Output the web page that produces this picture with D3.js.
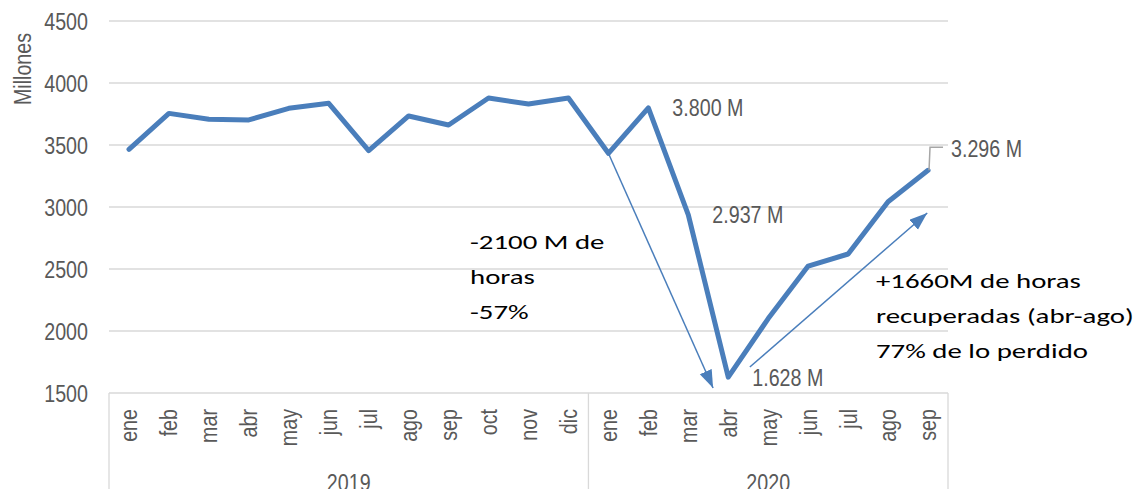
<!DOCTYPE html>
<html>
<head>
<meta charset="utf-8">
<script src="https://cdn.jsdelivr.net/npm/d3@7"></script>
<style>
  html, body { margin: 0; padding: 0; background: #ffffff; }
  svg { display: block; }
  .axis-text { font-family: "Liberation Sans", Arial, sans-serif; fill: #595959; }
  .note { font-family: Carlito, Calibri, Lato, "Open Sans", sans-serif; fill: #000000; }
</style>
</head>
<body>
<svg id="chart" width="1145" height="489"></svg>
<script>
// ---- data ----
const years = ["2019", "2020"];
const months2019 = ["ene","feb","mar","abr","may","jun","jul","ago","sep","oct","nov","dic"];
const months2020 = ["ene","feb","mar","abr","may","jun","jul","ago","sep"];
const values2019 = [3465, 3755, 3707, 3702, 3796, 3836, 3454, 3734, 3661, 3879, 3830, 3879];
const values2020 = [3433, 3800, 2937, 1628, 2100, 2524, 2621, 3043, 3296];
const yTicks = [1500, 2000, 2500, 3000, 3500, 4000, 4500];
const labeledIdx2020 = [1, 2, 3, 8];
const yAxisTitle = "Millones";
const noteLoss = ["-2100 M de", "horas", "-57%"];
const noteGain = ["+1660M de horas", "recuperadas (abr-ago)", "77% de lo perdido"];
// arrows: [fromIndex, fromValue, toIndex, toValue] (index on the 21-month axis)
const arrowLoss = [12, 3433, 14.62, 1540];
const arrowGain = [15.54, 1710, 19.98, 2952];

// ---- build ----
const months = [...months2019.map(m => ({year: "2019", m})), ...months2020.map(m => ({year: "2020", m}))];
const values = [...values2019, ...values2020];
const series = values.map((v, i) => ({i, v}));
const n = months.length;

const plotL = 109, plotR = 948, plotT = 21, plotB = 393;
const x = d3.scaleLinear().domain([-0.5, n - 0.5]).range([plotL, plotR]);
const y = d3.scaleLinear().domain([1500, 4500]).range([plotB, plotT]);

const svg = d3.select("#chart");
const blue = "#4A7EBB";
const grid = "#D9D9D9";
const NARROW = 0.82;   // emulate a narrow sans face
const FS = 24;

// gridlines
svg.append("g").selectAll("line").data(yTicks).join("line")
  .attr("x1", plotL).attr("x2", plotR)
  .attr("y1", d => y(d)).attr("y2", d => y(d))
  .attr("stroke", grid).attr("stroke-width", 1.3);

// y tick labels
svg.append("g").selectAll("text").data(yTicks).join("text")
  .attr("class", "axis-text")
  .attr("transform", d => `translate(88,${y(d) + 9}) scale(${NARROW},1)`)
  .attr("text-anchor", "end").attr("font-size", FS)
  .text(d => d);

// y title
svg.append("text").attr("class", "axis-text")
  .attr("transform", `translate(31,69) rotate(-90) scale(${NARROW},1)`)
  .attr("text-anchor", "middle").attr("font-size", FS)
  .text(yAxisTitle);

// category dividers
const groupBounds = [];
let gStart = 0;
years.forEach(yr => {
  const cnt = months.filter(d => d.year === yr).length;
  groupBounds.push({year: yr, s: gStart, e: gStart + cnt - 1});
  gStart += cnt;
});
const dividers = [-0.5, ...groupBounds.map(g => g.e + 0.5)];
svg.append("g").selectAll("line").data(dividers).join("line")
  .attr("x1", d => x(d)).attr("x2", d => x(d))
  .attr("y1", plotB).attr("y2", 489)
  .attr("stroke", grid).attr("stroke-width", 1.3);

// month labels
svg.append("g").selectAll("text").data(months).join("text")
  .attr("class", "axis-text")
  .attr("transform", (d, i) => `translate(${x(i)},${plotB + 16}) rotate(-90) scale(${NARROW},1)`)
  .attr("text-anchor", "end").attr("dy", "0.35em").attr("font-size", FS)
  .text(d => d.m);

// year labels
svg.append("g").selectAll("text").data(groupBounds).join("text")
  .attr("class", "axis-text")
  .attr("transform", d => `translate(${(x(d.s - 0.5) + x(d.e + 0.5)) / 2},491) scale(${NARROW},1)`)
  .attr("text-anchor", "middle").attr("font-size", FS)
  .text(d => d.year);

// line
const line = d3.line().x(d => x(d.i)).y(d => y(d.v));
svg.append("path").datum(series)
  .attr("d", line).attr("fill", "none")
  .attr("stroke", blue).attr("stroke-width", 5)
  .attr("stroke-linejoin", "round").attr("stroke-linecap", "round");

// data labels
const loc = d3.formatLocale({decimal: ",", thousands: ".", grouping: [3], currency: ["", ""]});
const fmt = v => loc.format(",")(v) + " M";
const labeled = labeledIdx2020.map(k => series[months2019.length + k]);
const last = labeled[labeled.length - 1];
svg.append("g").selectAll("text").data(labeled.slice(0, -1)).join("text")
  .attr("class", "axis-text")
  .attr("transform", d => `translate(${x(d.i) + 24},${y(d.v) + 8.5}) scale(${NARROW},1)`)
  .attr("font-size", FS)
  .text(d => fmt(d.v));
// last label with leader line
const lx = x(last.i), ly = y(last.v);
svg.append("path")
  .attr("d", `M${lx + 1},${ly} L${lx + 2},${ly - 23} L${lx + 15},${ly - 23}`)
  .attr("fill", "none").attr("stroke", "#A6A6A6").attr("stroke-width", 1.5);
svg.append("text").attr("class", "axis-text")
  .attr("transform", `translate(${lx + 23},${ly - 13.5}) scale(${NARROW},1)`)
  .attr("font-size", FS).text(fmt(last.v));

// arrows
const defs = svg.append("defs");
defs.append("marker").attr("id", "ah")
  .attr("markerUnits", "userSpaceOnUse")
  .attr("markerWidth", 20).attr("markerHeight", 14)
  .attr("refX", 18).attr("refY", 6.5).attr("orient", "auto")
  .append("path").attr("d", "M0,0 L18,6.5 L0,13 Z").attr("fill", blue);
svg.append("g").selectAll("line").data([arrowLoss, arrowGain]).join("line")
  .attr("x1", d => x(d[0])).attr("y1", d => y(d[1]))
  .attr("x2", d => x(d[2])).attr("y2", d => y(d[3]))
  .attr("stroke", blue).attr("stroke-width", 1.5)
  .attr("marker-end", "url(#ah)");

// notes
function note(lines) {
  const g = svg.append("g");
  g.selectAll("text").data(lines).join("text")
    .attr("class", "note").attr("font-size", 21)
    .attr("x", 0).attr("y", (d, i) => i * 35)
    .text(d => d);
  return g;
}
const gLoss = note(noteLoss);
const gGain = note(noteGain);
const refW = gGain.select("text").node().getComputedTextLength();
const sx = 205 / refW;
gLoss.attr("transform", `translate(470,249) scale(${sx},1)`);
gGain.attr("transform", `translate(876,288) scale(${sx},1)`);
</script>
</body>
</html>
